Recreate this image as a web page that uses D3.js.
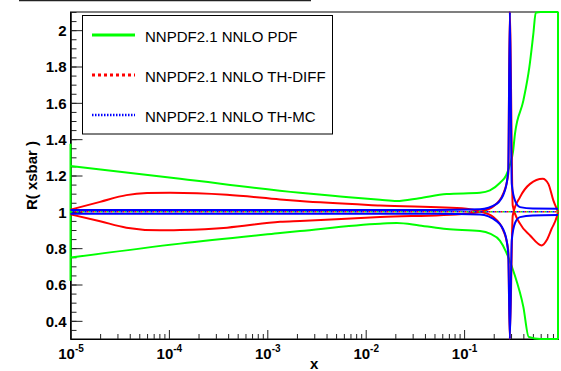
<!DOCTYPE html>
<html>
<head>
<meta charset="utf-8">
<script src="https://cdn.jsdelivr.net/npm/d3@7"></script>
<style>
  body { margin: 0; background: #fff; }
  svg { display: block; font-family: "Liberation Sans", Arial, Helvetica, sans-serif; }
</style>
</head>
<body>
<svg id="chart" width="561" height="371"></svg>
<script>
// axis ticks
const xTicks = [1e-5, 1e-4, 1e-3, 1e-2, 1e-1];
const xTickExponents = ['-5', '-4', '-3', '-2', '-1'];
const yTicks = [0.4, 0.6, 0.8, 1, 1.2, 1.4, 1.6, 1.8, 2];
const legendLabels = ['NNPDF2.1 NNLO PDF', 'NNPDF2.1 NNLO TH-DIFF', 'NNPDF2.1 NNLO TH-MC'];

// PDF band (green), [x, R]
const pdfUpper = [
  [1e-5, 1.252], [1.3e-4, 1.182], [2.15e-3, 1.105], [5.5e-3, 1.085],
  [0.014, 1.066], [0.0207, 1.059], [0.035, 1.075], [0.0665, 1.098], [0.145, 1.105],
  [0.183, 1.118], [0.232, 1.16], [0.267, 1.2], [0.293, 1.26], [0.314, 1.33],
  [0.329, 1.43], [0.40, 1.612], [0.46, 1.795], [0.505, 1.978], [0.535, 2.097],
  [0.6, 2.5], [0.9, 3.0]
];
const pdfLower = [
  [1e-5, 0.748], [1.3e-4, 0.825], [1.35e-3, 0.883], [2.15e-3, 0.894],
  [0.014, 0.935], [0.0207, 0.938], [0.035, 0.925], [0.0665, 0.905], [0.145, 0.894],
  [0.183, 0.88], [0.232, 0.84], [0.267, 0.78], [0.281, 0.751], [0.321, 0.665],
  [0.40, 0.477], [0.453, 0.312], [0.6, 0.0], [0.9, -1.0]
];
// outline of the band where it closes at the left edge
const pdfLeftEdge = [[1e-5, 1.375], [1e-5, 0.62]];

// TH-DIFF band (red)
const thDiffUpper = [
  [1e-5, 1.012], [2e-5, 1.055], [3.7e-5, 1.092], [6e-5, 1.103], [1.03e-4, 1.105],
  [3.9e-4, 1.094], [1.35e-3, 1.068], [2.15e-3, 1.059], [0.014, 1.035], [0.106, 1.017],
  [0.145, 1.002], [0.198, 0.971], [0.25, 0.898], [0.281, 0.788], [0.291, -3],
  [0.312, 0.98], [0.37, 1.081], [0.468, 1.154], [0.63, 1.182], [0.718, 1.154],
  [0.807, 1.063], [0.873, 1.017], [0.9, 1.0]
];
const thDiffLower = [
  [1e-5, 0.986], [2e-5, 0.948], [3.7e-5, 0.913], [8.1e-5, 0.898], [1.3e-4, 0.9],
  [3.9e-4, 0.913], [1.35e-3, 0.945], [2.15e-3, 0.95], [0.014, 0.971], [0.106, 0.99],
  [0.145, 1.0], [0.198, 1.03], [0.25, 1.1], [0.281, 1.209], [0.291, 4],
  [0.312, 1.035], [0.37, 0.935], [0.468, 0.87], [0.615, 0.815], [0.69, 0.843],
  [0.776, 0.907], [0.873, 0.971], [0.9, 1.0]
];

// TH-MC band (blue)
const thMcUpper = [
  [1e-5, 1.01], [0.05, 1.01], [0.145, 1.014], [0.214, 1.044], [0.26, 1.118],
  [0.281, 1.227], [0.292, 4], [0.305, 1.154], [0.33, 1.06], [0.37, 1.026],
  [0.5, 1.018], [0.9, 1.017]
];
const thMcLower = [
  [1e-5, 0.99], [0.05, 0.99], [0.145, 0.986], [0.214, 0.949], [0.26, 0.88],
  [0.281, 0.77], [0.292, -3], [0.305, 0.843], [0.33, 0.94], [0.37, 0.971],
  [0.5, 0.98], [0.9, 0.982]
];

const centralValue = [[1e-5, 1], [0.9, 1]];

const svg = d3.select('#chart');
const frame = {left: 70.5, right: 558, top: 12, bottom: 339};

const x = d3.scaleLog().domain([1e-5, 0.9]).range([frame.left, frame.right]).clamp(true);
const y = d3.scaleLinear().domain([0.3, 2.1]).range([frame.bottom, frame.top]).clamp(true);

// leftover border of the title box at the very top
svg.append('line')
  .attr('x1', 19).attr('x2', 311).attr('y1', 0.5).attr('y2', 0.5)
  .attr('stroke', '#222').attr('stroke-width', 1.5);

// frame
svg.append('rect')
  .attr('x', frame.left).attr('y', frame.top)
  .attr('width', frame.right - frame.left).attr('height', frame.bottom - frame.top)
  .attr('fill', 'none').attr('stroke', '#000');

function styleAxis(g) {
  g.attr('font-family', null).attr('font-size', null);
  g.selectAll('line').attr('stroke', '#222');
  g.select('.domain').attr('stroke', '#000');
}

// y axis
const yMinor = d3.range(0.3, 2.1001, 0.05);
svg.append('g')
  .attr('transform', `translate(${frame.left},0)`)
  .call(d3.axisLeft(y).tickValues(yMinor).tickSize(-6).tickSizeOuter(0).tickFormat(''))
  .call(styleAxis);
svg.append('g')
  .attr('transform', `translate(${frame.left},0)`)
  .call(d3.axisLeft(y).tickValues(yTicks).tickSize(-12).tickSizeOuter(0).tickPadding(4)
    .tickFormat(d3.format('~g')))
  .call(styleAxis)
  .call(g => g.selectAll('text')
    .attr('font-size', 15).attr('font-weight', 'bold').attr('fill', '#000').attr('dy', '0.36em'));

// x axis
const xMinor = [];
for (let e = -5; e <= -1; e++) {
  for (let k = 2; k <= 9; k++) {
    const v = k * Math.pow(10, e);
    if (v <= 0.9) xMinor.push(v);
  }
}
svg.append('g')
  .attr('transform', `translate(0,${frame.bottom})`)
  .call(d3.axisBottom(x).tickValues(xMinor).tickSize(-5).tickSizeOuter(0).tickFormat(''))
  .call(styleAxis);
const xAxis = svg.append('g')
  .attr('transform', `translate(0,${frame.bottom})`)
  .call(d3.axisBottom(x).tickValues(xTicks).tickSize(-9).tickSizeOuter(0).tickFormat(''))
  .call(styleAxis);
xAxis.selectAll('.tick text').remove();
xAxis.selectAll('.tick').each(function(d, i) {
  const t = d3.select(this).append('text')
    .attr('y', 20).attr('text-anchor', 'middle')
    .attr('fill', '#000').attr('font-weight', 'bold');
  t.append('tspan').attr('font-size', 15).text('10');
  t.append('tspan').attr('font-size', 10).attr('dy', -7).text(xTickExponents[i]);
});

// axis titles
svg.append('text')
  .attr('x', (frame.left + frame.right) / 2).attr('y', 369)
  .attr('text-anchor', 'middle').attr('font-size', 15).attr('font-weight', 'bold')
  .text('x');
svg.append('text')
  .attr('transform', `translate(37,${(frame.top + frame.bottom) / 2}) rotate(-90)`)
  .attr('text-anchor', 'middle').attr('font-size', 15).attr('font-weight', 'bold')
  .text('R( xsbar )');

// curves
const smooth = d3.line().x(d => x(d[0])).y(d => y(d[1])).curve(d3.curveMonotoneX);
const straight = d3.line().x(d => x(d[0])).y(d => y(d[1]));
const plot = svg.append('g').attr('fill', 'none').attr('stroke-linejoin', 'round');

const green = plot.append('g').attr('stroke', '#00ff00').attr('stroke-width', 2);
green.append('path').attr('d', smooth(pdfUpper));
green.append('path').attr('d', smooth(pdfLower));
green.append('path').attr('d', straight(pdfLeftEdge));
green.append('path').attr('d', straight([pdfUpper[pdfUpper.length - 1], pdfLower[pdfLower.length - 1]]));

[thDiffUpper, thDiffLower].forEach(s => {
  plot.append('path').attr('d', smooth(s)).attr('stroke', '#ff0000').attr('stroke-width', 2);
});
[thMcUpper, thMcLower].forEach(s => {
  plot.append('path').attr('d', smooth(s)).attr('stroke', '#0000ff').attr('stroke-width', 2);
});

// central values, all equal to one
const centralStyles = [
  {color: '#00ff00', offset: 0},
  {color: '#ff0000', offset: 2},
  {color: '#0000ff', offset: 4}
];
centralStyles.forEach(c => {
  plot.append('path').attr('d', straight(centralValue))
    .attr('stroke', c.color).attr('stroke-width', 1.5)
    .attr('stroke-dasharray', '2,4').attr('stroke-dashoffset', c.offset);
});

// legend
const legend = svg.append('g');
legend.append('rect')
  .attr('x', 82.5).attr('y', 15.5).attr('width', 250).attr('height', 118.5)
  .attr('fill', '#fff').attr('stroke', '#000');
const legendStyles = [
  {color: '#00ff00', width: 3, dash: null},
  {color: '#ff0000', width: 3, dash: '3,3'},
  {color: '#0000ff', width: 2.5, dash: '1.5,1.5'}
];
legendLabels.forEach((label, i) => {
  const cy = 35 + i * 40;
  legend.append('line')
    .attr('x1', 92).attr('x2', 135).attr('y1', cy).attr('y2', cy)
    .attr('stroke', legendStyles[i].color).attr('stroke-width', legendStyles[i].width)
    .attr('stroke-dasharray', legendStyles[i].dash);
  legend.append('text')
    .attr('x', 145).attr('y', cy + 6.5).attr('font-size', 15).attr('fill', '#000')
    .text(label);
});
</script>
</body>
</html>
